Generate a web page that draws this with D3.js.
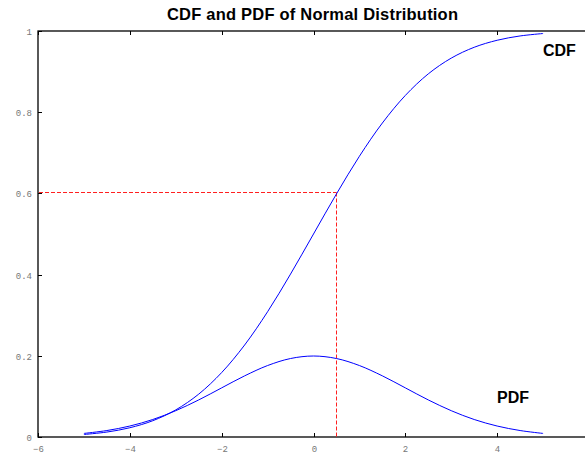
<!DOCTYPE html>
<html><head><meta charset="utf-8">
<script src="https://cdn.jsdelivr.net/npm/d3@7"></script>
<style>body{margin:0;background:#fff}svg{display:block}</style>
</head><body>
<svg id="c" width="585" height="454"></svg>
<script>
const xs = [-5,-4.5,-4,-3.5,-3,-2.5,-2,-1.5,-1,-0.5,0,0.5,1,1.5,2,2.5,3,3.5,4,4.5,5];
const cdfVals = [0.0062,0.0122,0.0228,0.0401,0.0668,0.1056,0.1587,0.2266,0.3085,0.4013,0.5,0.5987,0.6915,0.7734,0.8413,0.8944,0.9332,0.9599,0.9772,0.9878,0.9938];
const pdfVals = [0.0088,0.0159,0.0270,0.0431,0.0648,0.0913,0.1210,0.1506,0.1760,0.1933,0.1995,0.1933,0.1760,0.1506,0.1210,0.0913,0.0648,0.0431,0.0270,0.0159,0.0088];
const xTicks = [-6,-4,-2,0,2,4,6];
const xTickLabels = ["\u22126","\u22124","\u22122","0","2","4",""];
const yTicks = [0,0.2,0.4,0.6,0.8,1];
const yTickLabels = ["0","0.2","0.4","0.6","0.8","1"];
const markX = 0.5, markY = 0.6;
const title = "CDF and PDF of Normal Distribution";

const svg = d3.select("#c");
const L=38, R=589, T=31, B=437;
const x = d3.scaleLinear().domain([-6,6]).range([L,R]);
const y = d3.scaleLinear().domain([0,1]).range([B,T]);

const tickFont = "'Liberation Mono', 'DejaVu Sans Mono', monospace";
svg.append("rect").attr("x",L).attr("y",T).attr("width",R-L).attr("height",B-T)
  .attr("fill","none").attr("stroke","#000").attr("stroke-width",1.3);

const tl=4;
xTicks.forEach((t,i)=>{
  const px=Math.round(x(t))+0.5;
  svg.append("line").attr("x1",px).attr("x2",px).attr("y1",B).attr("y2",B-tl).attr("stroke","#000");
  svg.append("line").attr("x1",px).attr("x2",px).attr("y1",T).attr("y2",T+tl).attr("stroke","#000");
  if (xTickLabels[i]) svg.append("text").attr("x",px).attr("y",452).attr("text-anchor","middle")
    .attr("font-family",tickFont).attr("font-size",9).attr("fill","#777").text(xTickLabels[i]);
});
yTicks.forEach((t,i)=>{
  const py=Math.round(y(t))+0.5;
  svg.append("line").attr("x1",L).attr("x2",L+tl).attr("y1",py).attr("y2",py).attr("stroke","#000");
  svg.append("line").attr("x1",R).attr("x2",R-tl).attr("y1",py).attr("y2",py).attr("stroke","#000");
  svg.append("text").attr("x",L-6).attr("y",py+3).attr("text-anchor","end")
    .attr("font-family",tickFont).attr("font-size",9).attr("fill","#777").text(yTickLabels[i]);
});

const mx = Math.round(x(markX))+0.5, my = Math.round(y(markY))-0.5;
const g = svg.append("g").attr("stroke","#ff2020").attr("stroke-width",1).attr("stroke-dasharray","4,2").attr("fill","none");
g.append("line").attr("x1",L+1).attr("x2",mx).attr("y1",my).attr("y2",my);
g.append("line").attr("x1",mx).attr("x2",mx).attr("y1",my).attr("y2",B);

const line = d3.line().x(d=>x(d[0])).y(d=>y(d[1])).curve(d3.curveCatmullRom);
svg.append("path").datum(xs.map((v,i)=>[v,cdfVals[i]])).attr("d",line)
  .attr("fill","none").attr("stroke","#0000ff").attr("stroke-width",1);
svg.append("path").datum(xs.map((v,i)=>[v,pdfVals[i]])).attr("d",line)
  .attr("fill","none").attr("stroke","#0000ff").attr("stroke-width",1);

const bold = "'Liberation Sans', Arial, sans-serif";
svg.append("text").attr("x",167).attr("y",20)
  .attr("font-family",bold).attr("font-weight","bold").attr("font-size",16.5)
  .attr("textLength",291).attr("lengthAdjust","spacing").text(title);
svg.append("text").attr("x",543).attr("y",56)
  .attr("font-family",bold).attr("font-weight","bold").attr("font-size",16).text("CDF");
svg.append("text").attr("x",497).attr("y",403)
  .attr("font-family",bold).attr("font-weight","bold").attr("font-size",16).text("PDF");
</script>
</body></html>
